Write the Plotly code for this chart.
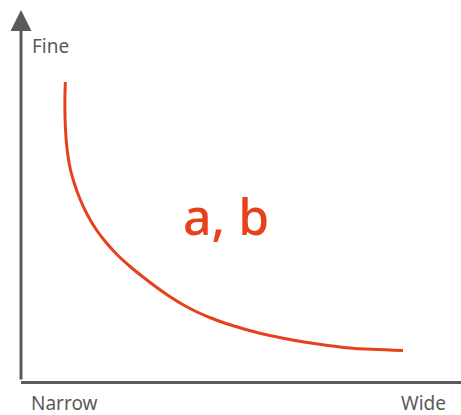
import plotly.graph_objects as go

# width (narrow -> wide) vs fineness, arbitrary 0-100 units
width = [10.07, 9.98, 10.02, 10.27, 10.64, 11.25, 12.23, 13.50, 15.11, 17.16, 19.43, 21.93, 24.66,
         27.73, 31.02, 33.98, 36.93, 40.00, 43.18, 46.93, 50.68, 55.00, 59.32, 64.32, 69.77,
         75.91, 86.82]
fineness = [80.59, 75.74, 70.35, 64.96, 60.92, 56.87, 52.83, 48.79, 44.74, 40.70, 37.20, 33.96,
            31.00, 28.03, 25.07, 22.64, 20.49, 18.60, 16.98, 15.36, 14.02, 12.67, 11.59, 10.51,
            9.57, 8.76, 8.22]

x_labels = ["Narrow", "Wide"]
y_label = "Fine"
curve_label = "a, b"

red = "#e8401c"
grey = "#5a5a5a"
font = "Noto Sans"

fig = go.Figure()
fig.add_trace(go.Scatter(x=width, y=fineness, mode="lines",
                         line=dict(color=red, width=3, shape="spline", smoothing=0.6),
                         hoverinfo="skip"))

# y axis with arrow
fig.add_annotation(x=0, y=100, xref="x", yref="y", ax=0, ay=0, axref="x", ayref="y",
                   showarrow=True, arrowhead=2, arrowsize=1.4, arrowwidth=3,
                   arrowcolor=grey, text="")

fig.add_annotation(x=0.02, y=0.903, xref="paper", yref="paper", text=y_label,
                   showarrow=False, xanchor="left", yanchor="middle",
                   font=dict(family=font, size=19, color=grey))
fig.add_annotation(x=0.018, y=-0.059, xref="paper", yref="paper", text=x_labels[0],
                   showarrow=False, xanchor="left", yanchor="middle",
                   font=dict(family=font, size=19, color=grey))
fig.add_annotation(x=0.97, y=-0.059, xref="paper", yref="paper", text=x_labels[1],
                   showarrow=False, xanchor="right", yanchor="middle",
                   font=dict(family=font, size=19, color=grey))
fig.add_annotation(x=46.5, y=44.5, xref="x", yref="y", text=curve_label,
                   showarrow=False, font=dict(family=font, size=50, color=red, weight=500))

fig.update_layout(
    width=461, height=415,
    margin=dict(l=21, r=0, t=10, b=34),
    plot_bgcolor="white", paper_bgcolor="white",
    showlegend=False,
    xaxis=dict(range=[0, 100], showgrid=False, zeroline=False, showticklabels=False,
               ticks="", showline=True, linecolor=grey, linewidth=3),
    yaxis=dict(range=[0, 100], showgrid=False, zeroline=False, showticklabels=False,
               ticks="", showline=False),
)

fig.write_html("out.html", config={"displayModeBar": False},
               post_script="document.body.style.margin='0';")
